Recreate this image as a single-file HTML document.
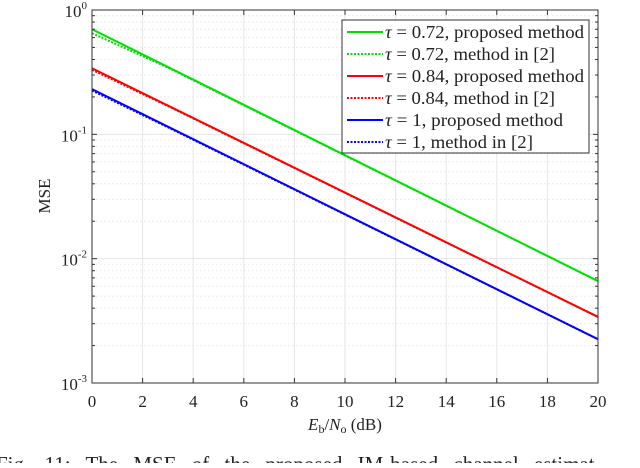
<!DOCTYPE html>
<html><head><meta charset="utf-8"><style>
body{margin:0;width:640px;height:463px;overflow:hidden;background:#fff;font-family:"Liberation Serif",serif;}
svg text{font-family:"Liberation Serif",serif;fill:#222;}
</style></head><body>
<svg id="chart" width="640" height="463" xmlns="http://www.w3.org/2000/svg">
<g id="grid"></g>
<g id="series"></g>
<rect x="92" y="10" width="506" height="373" fill="none" stroke="#333" stroke-width="1"/>
<g id="ticks"></g>
<text x="50" y="196" font-size="17" text-anchor="middle" transform="rotate(-90 50 196)">MSE</text>
<text x="345" y="430" font-size="17" text-anchor="middle"><tspan font-style="italic">E</tspan><tspan font-size="12" dy="3">b</tspan><tspan dy="-3">/</tspan><tspan font-style="italic">N</tspan><tspan font-size="12" dy="3">o</tspan><tspan dy="-3"> (dB)</tspan></text>
<g id="legend">
<rect x="342" y="20" width="247" height="133" fill="#fff" stroke="#333" stroke-width="1"/>
</g>
<text x="-4" y="471" font-size="21" word-spacing="10">Fig. 11: The MSE of the proposed IM-based channel estimat</text>
</svg>
<script>
const xTicks=[0,2,4,6,8,10,12,14,16,18,20];
const yDecades=[-3,-2,-1,0];
const seriesNames=["τ = 0.72, proposed method","τ = 0.72, method in [2]","τ = 0.84, proposed method","τ = 0.84, method in [2]","τ = 1, proposed method","τ = 1, method in [2]"];
const seriesColors=["#00e000","#00e000","#ff0000","#ff0000","#0000ff","#0000ff"];
const seriesDashed=[false,true,false,true,false,true];
const xProp=[0,20];
const g072=[0.70,0.0066];
const r084=[0.34,0.0034];
const b100=[0.231,0.00225];
const xRef=[0,3,20];
const g072ref=[0.65,0.344,0.0066];
const r084ref=[0.33,0.169,0.0034];
const b100ref=[0.225,0.114,0.00225];
const seriesX=[xProp,xRef,xProp,xRef,xProp,xRef];
const seriesY=[g072,g072ref,r084,r084ref,b100,b100ref];
const legendTextLen=[199,170,199,170,178,148];
const NS="http://www.w3.org/2000/svg";
const L=92,R=598,T=10,B=383;
const sx=v=>L+(v-0)/(20-0)*(R-L);
const sy=v=>B-(Math.log10(v)+3)/3*(B-T);
function mk(t,a,p){const e=document.createElementNS(NS,t);for(const k in a)e.setAttribute(k,a[k]);p.appendChild(e);return e;}
const grid=document.getElementById('grid'),ticks=document.getElementById('ticks');
xTicks.forEach(v=>{const x=sx(v);
 if(v>0&&v<20){const l=mk('line',{x1:x,x2:x,y1:T,y2:B,stroke:'#e6e6e6','stroke-width':1},grid);
 
 }
 mk('line',{x1:x,x2:x,y1:B,y2:B-5,stroke:'#333'},ticks);mk('line',{x1:x,x2:x,y1:T,y2:T+5,stroke:'#333'},ticks);
 const t=mk('text',{x:x,y:407,'font-size':17,'text-anchor':'middle'},ticks);t.textContent=v;
 
 
});
yDecades.forEach(d=>{const y=sy(Math.pow(10,d));
 mk('line',{x1:L,x2:L+5,y1:y,y2:y,stroke:'#333'},ticks);mk('line',{x1:R,x2:R-5,y1:y,y2:y,stroke:'#333'},ticks);
 if(d>-3&&d<0){const l=mk('line',{x1:L,x2:R,y1:y,y2:y,stroke:'#e6e6e6'},grid);
 
 }
 const t=mk('text',{x:87,y:y+7,'font-size':17,'text-anchor':'end'},ticks);
 
 
 t.innerHTML='10<tspan font-size="11" dy="-8">'+d+'</tspan>';
 if(d<0)for(let m=2;m<=9;m++){const yy=sy(m*Math.pow(10,d));
  mk('line',{x1:L,x2:L+3,y1:yy,y2:yy,stroke:'#333'},ticks);mk('line',{x1:R,x2:R-3,y1:yy,y2:yy,stroke:'#333'},ticks);
  mk('line',{x1:L,x2:R,y1:yy,y2:yy,stroke:'#e6e6e6','stroke-dasharray':'1.5 2.5'},grid);}
});
const ser=document.getElementById('series');
seriesY.forEach((ys,i)=>{const pts=ys.map((v,j)=>sx(seriesX[i][j])+','+sy(v)).join(' ');
 const p=mk('polyline',{points:pts,fill:'none',stroke:seriesColors[i],'stroke-width':2},ser);
 if(seriesDashed[i])p.setAttribute('stroke-dasharray','2 1.5');
 
 
});
const leg=document.getElementById('legend');
seriesNames.forEach((n,i)=>{const y=32+i*22;
 const l=mk('line',{x1:347,x2:383,y1:y,y2:y,stroke:seriesColors[i],'stroke-width':2},leg);
 if(seriesDashed[i])l.setAttribute('stroke-dasharray','2 1.5');
 const t=mk('text',{x:385,y:y+6,'font-size':18,textLength:legendTextLen[i],lengthAdjust:'spacingAndGlyphs'},leg);
 t.innerHTML='<tspan font-style="italic">τ</tspan>'+n.slice(1);
 
 
});
</script>
</body></html>
